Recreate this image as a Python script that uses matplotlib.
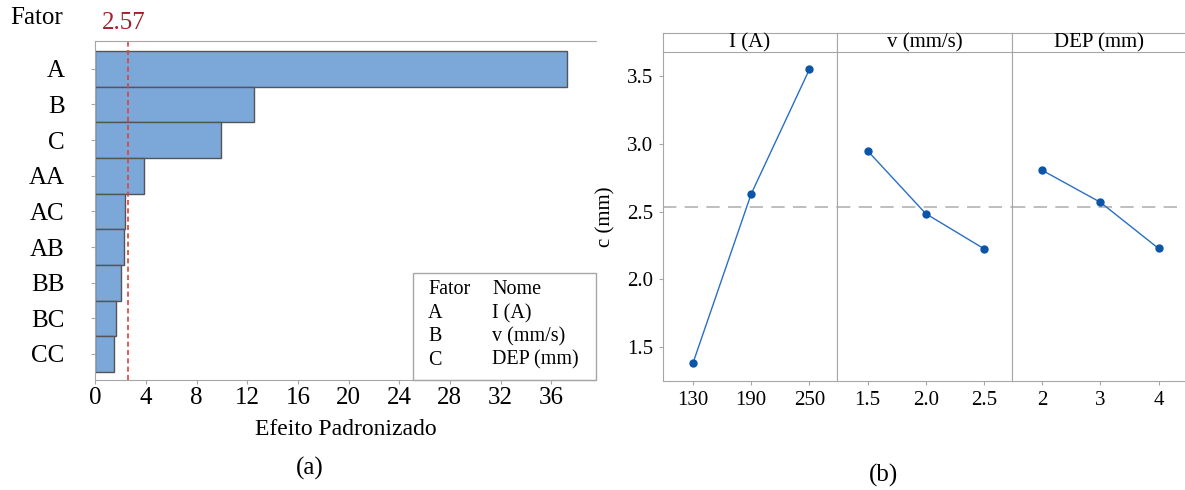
import numpy as np
import matplotlib.pyplot as plt
from matplotlib.patches import Rectangle

plt.rcParams['font.family'] = ['Liberation Serif', 'DejaVu Serif']

# Pareto chart of standardized effects
termos = ['A', 'B', 'C', 'AA', 'AC', 'AB', 'BB', 'BC', 'CC']
efeitos = [37.27, 12.57, 9.94, 3.87, 2.35, 2.30, 2.00, 1.66, 1.45]
t_critico = 2.57

fatores = ['A', 'B', 'C']
nomes = ['I (A)', 'v (mm/s)', 'DEP (mm)']

# Main effects plot for c (mm)
niveis = [['130', '190', '250'], ['1.5', '2.0', '2.5'], ['2', '3', '4']]
medias = [[1.382, 2.630, 3.549], [2.949, 2.485, 2.226], [2.805, 2.569, 2.228]]
media_geral = 2.536

W, H = 1185, 490
fig = plt.figure(figsize=(W / 100, H / 100), dpi=100)


def box(x0, y0, x1, y1):
    # pixel box (top-left origin) -> figure fraction rect
    return [x0 / W, 1 - y1 / H, (x1 - x0) / W, (y1 - y0) / H]


cinza = '#a6a6a6'
azul_barra = '#7ba7d9'

# ---------- (a) ----------
ax = fig.add_axes(box(95.3, 41, 595.5, 380))
y = np.arange(len(termos))
ax.barh(y, efeitos, height=1.0, color=azul_barra, edgecolor='#555555', linewidth=1)
ax.axvline(t_critico, color='#e0403a', linestyle=(0, (3, 2)), linewidth=1.2)
ax.set_xlim(0, 39.5)
ax.set_ylim(8.73, -0.78)
ax.set_yticks(y)
ax.set_yticklabels(termos, fontsize=18)
ax.set_xticks(np.arange(0, 37, 4))
ax.tick_params(axis='x', labelsize=18, length=3, color=cinza, pad=2)
ax.tick_params(axis='y', length=3, color=cinza, pad=19)
for s in ['left', 'top', 'bottom']:
    ax.spines[s].set_color(cinza)
ax.spines['right'].set_visible(False)
ax.set_xlabel('Efeito Padronizado', fontsize=17, labelpad=7)
fig.text(10 / W, 1 - 18 / H, 'Fator', fontsize=18, va='center', ha='left')
ax.text(t_critico - 0.3, 1.052, f'{t_critico:.2f}', transform=ax.get_xaxis_transform(),
        color='#a3202a', fontsize=18, ha='center', va='center')

# legend table
fig.patches.append(Rectangle((412.6 / W, 1 - 380 / H), (595.5 - 412.6) / W, (380 - 273.3) / H,
                             transform=fig.transFigure, fill=False, edgecolor=cinza, linewidth=1))
linhas = [('Fator', 'Nome')] + list(zip(fatores, nomes))
for i, (f, n) in enumerate(linhas):
    yy = 1 - (290 + i * 23.4) / H
    fig.text(428 / W, yy, f, fontsize=14.5, va='center')
    fig.text(492 / W, yy, n, fontsize=14.5, va='center')

fig.text(310 / W, 1 - 468 / H, '(a)', fontsize=18, ha='center', va='center')

# ---------- (b) ----------
x0 = 662.7
largura = 174.6
for i in range(3):
    axp = fig.add_axes(box(x0 + i * largura, 51.7, x0 + (i + 1) * largura, 381))
    xs = np.arange(3)
    axp.axhline(media_geral, color='#b3b3b3', linestyle=(0, (8, 5)), linewidth=1.2, zorder=1)
    axp.plot(xs, medias[i], '-', color='#2a6fc4', linewidth=1.0, zorder=2)
    axp.plot(xs, medias[i], 'o', color='#0b55a8', markersize=5, zorder=3)
    axp.set_xlim(-0.52, 2.48)
    axp.set_ylim(1.25, 3.68)
    axp.set_xticks(xs)
    axp.set_xticklabels(niveis[i], fontsize=15)
    axp.tick_params(length=3, color=cinza, pad=4)
    for s in axp.spines.values():
        s.set_color(cinza)
    axp.spines['top'].set_visible(False)
    if i == 0:
        axp.set_yticks([1.5, 2.0, 2.5, 3.0, 3.5])
        axp.set_yticklabels(['1.5', '2.0', '2.5', '3.0', '3.5'], fontsize=15)
        axp.set_ylabel('c (mm)', fontsize=15, labelpad=8)
    else:
        axp.set_yticks([])
    # strip header
    axs = fig.add_axes(box(x0 + i * largura, 32.7, x0 + (i + 1) * largura, 51.7))
    axs.set_xticks([])
    axs.set_yticks([])
    for s in axs.spines.values():
        s.set_color(cinza)
    axs.text(0.5, 0.45, nomes[i], fontsize=15, ha='center', va='center', transform=axs.transAxes)

fig.text(883 / W, 1 - 475 / H, '(b)', fontsize=18, ha='center', va='center')

fig.savefig('out.png', dpi=100)
